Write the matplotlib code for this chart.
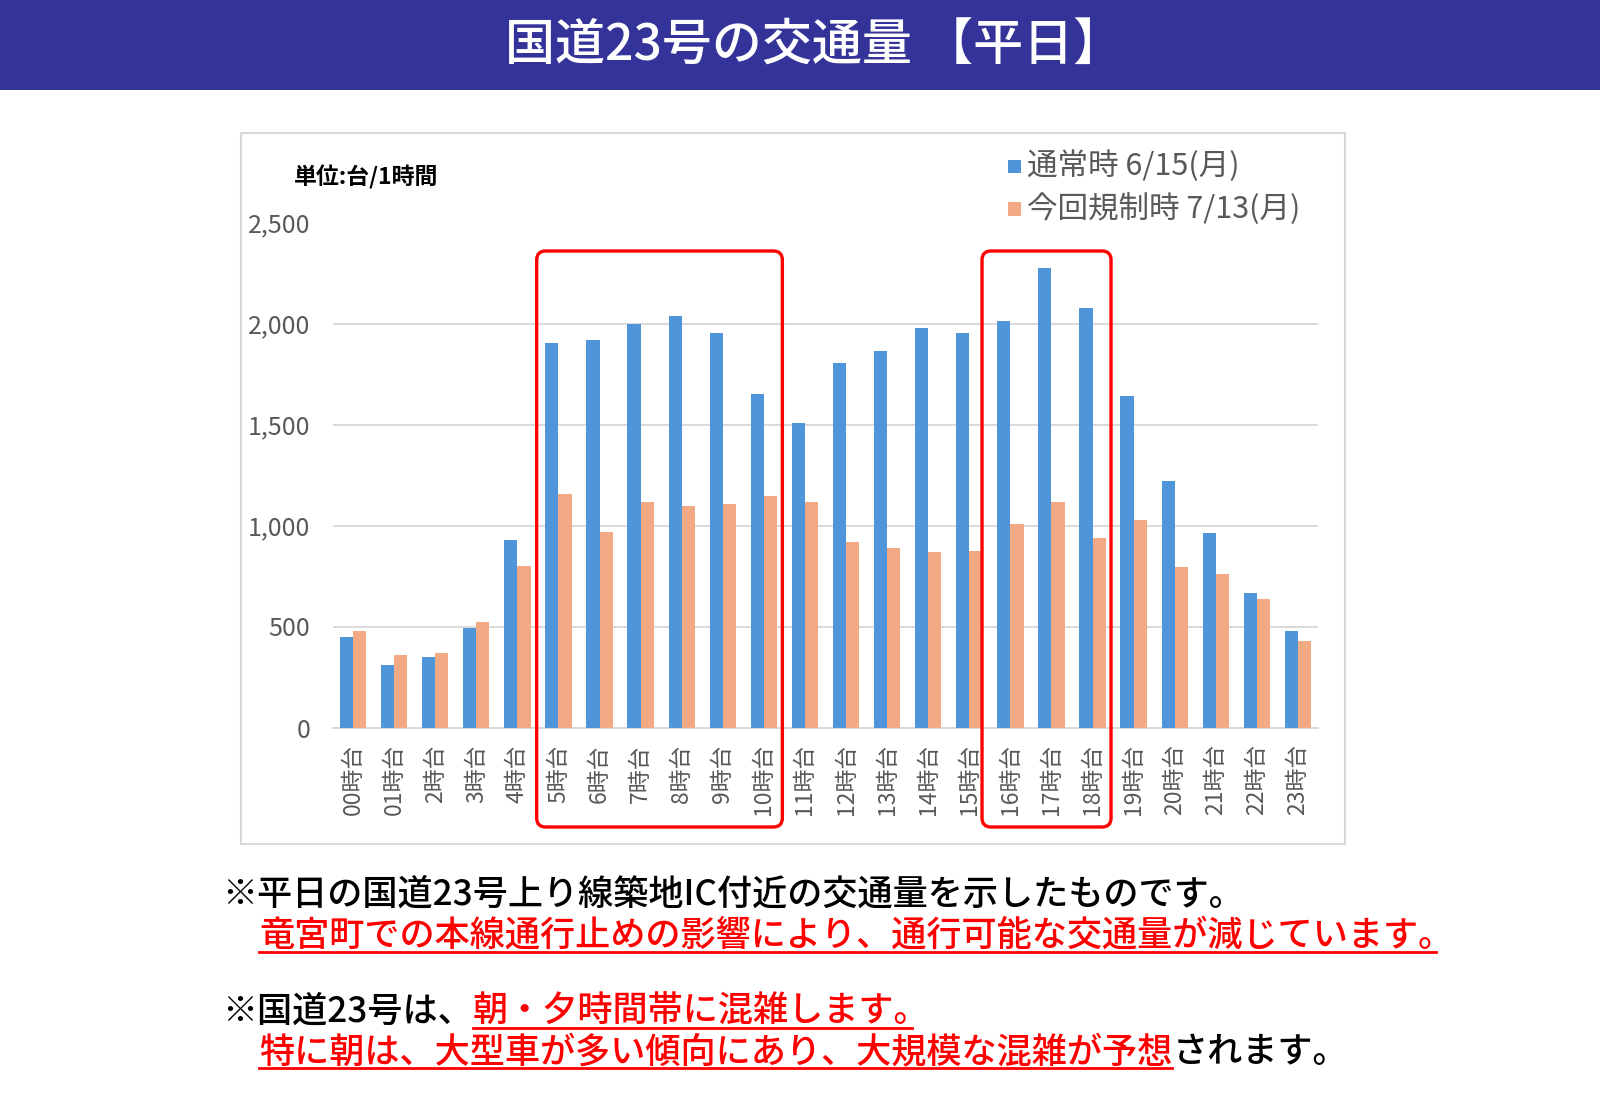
import matplotlib
matplotlib.use("Agg")
import matplotlib.pyplot as plt
import numpy as np
from matplotlib.patches import Rectangle, FancyBboxPatch
from matplotlib.transforms import IdentityTransform

plt.rcParams['font.family'] = ['Noto Sans CJK JP', 'DejaVu Sans']

# Data (台/1時間)
hours = ["00時台", "01時台"] + [f"{h}時台" for h in range(2, 24)]
normal = [450, 307, 351, 491, 928, 1901, 1916, 1998, 2038, 1953, 1651, 1509,
          1803, 1865, 1979, 1953, 2011, 2273, 2078, 1639, 1220, 962, 668, 480]
restricted = [480, 360, 370, 520, 801, 1157, 970, 1116, 1095, 1106, 1146, 1114,
              917, 888, 871, 873, 1009, 1114, 937, 1028, 793, 759, 638, 427]
series_names = ["通常時 6/15(月)", "今回規制時 7/13(月)"]
highlight_spans = [(4.47, 10.45), (15.31, 18.45)]  # morning / evening peaks

blue = "#4F95D9"
orange = "#F2AA84"
gray_txt = "#595959"
grid_col = "#D9D9D9"

W, H = 1600, 1108
fig = plt.figure(figsize=(W / 100, H / 100), dpi=100)


def fx(x):
    return x / W


def fy(y):
    return 1 - y / H


# Title banner
fig.patches.append(Rectangle((0, fy(90)), 1, 90 / H, transform=fig.transFigure,
                             facecolor="#333399", edgecolor="none", zorder=-2))
fig.text(fx(814), fy(47), "国道23号の交通量 【平日】", color="white", fontsize=36,
         fontweight="medium", ha="center", va="center")

# Chart frame
fig.patches.append(Rectangle((fx(241), fy(844)), (1345 - 241) / W, (844 - 133) / H,
                             transform=fig.transFigure, facecolor="white",
                             edgecolor=grid_col, lw=1.5, zorder=-2))

# Axes
left, right, top, bottom = 332.5, 1318.5, 222.5, 727.5
ax = fig.add_axes([fx(left), fy(bottom), (right - left) / W, (bottom - top) / H])
ax.set_facecolor("none")
x = np.arange(len(hours))
bw = 0.32
ax.bar(x - bw / 2, normal, width=bw, color=blue, zorder=3)
ax.bar(x + bw / 2, restricted, width=bw, color=orange, zorder=3)
ax.set_xlim(-0.5, len(hours) - 0.5)
ax.set_ylim(0, 2500)
ax.set_yticks(range(0, 2501, 500))
ax.set_yticklabels([f"{v:,}" for v in range(0, 2501, 500)])
ax.set_xticks(x)
ax.set_xticklabels(hours, rotation=90)
ax.tick_params(axis="y", length=0, pad=16, labelsize=18, labelcolor=gray_txt)
ax.tick_params(axis="x", length=0, pad=12, labelsize=16.5, labelcolor=gray_txt)
ax.grid(axis="y", color=grid_col, lw=1.4, zorder=0)
for s in ["left", "right", "top"]:
    ax.spines[s].set_visible(False)
ax.spines["bottom"].set_color(grid_col)
ax.spines["bottom"].set_linewidth(1.4)

# Unit label
fig.text(fx(294), fy(177), "単位:台/1時間", fontsize=16.5, fontweight="bold",
         color="black", ha="left", va="center")

# Legend
for i, (name, col) in enumerate(zip(series_names, [blue, orange])):
    yc = 166 + i * 43
    fig.patches.append(Rectangle((fx(1008), fy(yc + 6.5)), 13 / W, 13 / H,
                                 transform=fig.transFigure, facecolor=col,
                                 edgecolor="none"))
    fig.text(fx(1027), fy(yc), name, fontsize=22, color=gray_txt,
             ha="left", va="center")

# Red highlight boxes
y_top_pix = H - 251
y_bot_pix = H - 827
for x0, x1 in highlight_spans:
    px0 = ax.transData.transform((x0, 0))[0]
    px1 = ax.transData.transform((x1, 0))[0]
    box = FancyBboxPatch((px0, y_bot_pix), px1 - px0, y_top_pix - y_bot_pix,
                         boxstyle="round,pad=0,rounding_size=9",
                         transform=IdentityTransform(), facecolor="none",
                         edgecolor="#FF0000", lw=2.4, zorder=5)
    fig.patches.append(box)

# Notes below the chart
renderer = fig.canvas.get_renderer()
note_fs = 25.3
em_px = note_fs * 100 / 72


def draw_runs(x0, base_y, runs):
    xpos = x0
    for txt, col, underline in runs:
        t = fig.text(fx(xpos), fy(base_y), txt, fontsize=note_fs, color=col,
                     ha="left", va="baseline", fontweight="medium")
        w = t.get_window_extent(renderer).width
        if underline:
            end = xpos + w - (0.5 * em_px if txt.endswith("。") else 0)
            fig.add_artist(plt.Line2D([fx(xpos), fx(end)],
                                      [fy(base_y + 6), fy(base_y + 6)],
                                      color=col, lw=2.0))
        xpos += w


red = "#FF0000"
draw_runs(222, 905, [("※平日の国道23号上り線築地IC付近の交通量を示したものです。", "black", False)])
draw_runs(259, 946, [("竜宮町での本線通行止めの影響により、通行可能な交通量が減じています。", red, True)])
draw_runs(222, 1022, [("※国道23号は、", "black", False), ("朝・夕時間帯に混雑します。", red, True)])
draw_runs(259, 1062, [("特に朝は、大型車が多い傾向にあり、大規模な混雑が予想", red, True),
                      ("されます。", "black", False)])

fig.savefig("out.png", dpi=100)
